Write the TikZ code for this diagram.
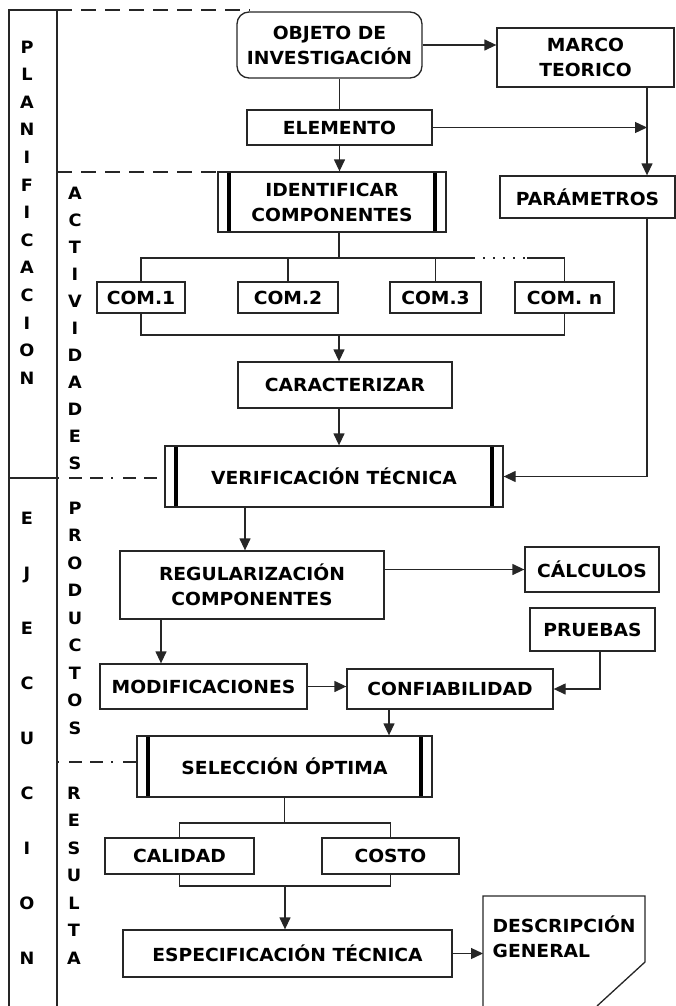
\documentclass[tikz,border=0pt]{standalone}
\usepackage{fontspec}
\setmainfont{DejaVu Sans}[FakeStretch=1.04]
\usetikzlibrary{arrows.meta}
\newcommand\boxfont{\fontsize{18}{25}\selectfont\bfseries}
\newcommand\colfont{\fontsize{17}{17}\selectfont\bfseries}
\begin{document}
\begin{tikzpicture}[x=1pt,y=-1pt,
  line width=1.3pt,
  color=black!85,
  box/.style={draw, rectangle, inner sep=0pt, align=center, font=\boxfont, text=black},
  procbox/.style={box, path picture={
    \draw[line width=3.5pt,draw=black] ([xshift=11pt]path picture bounding box.north west) -- ([xshift=11pt]path picture bounding box.south west);
    \draw[line width=3.5pt,draw=black] ([xshift=-11pt]path picture bounding box.north east) -- ([xshift=-11pt]path picture bounding box.south east);}},
  arr/.style={-{Triangle[length=12pt,width=11pt]}},
  column/.style={inner sep=0pt, align=center, text=black},
  phase/.style={dash pattern=on 15pt off 9pt},
  sub/.style={dash pattern=on 2pt off 10pt on 13pt off 8pt on 13pt off 8pt},
]
\useasboundingbox (0,0) rectangle (676,1006);

% ---- phase columns on the left ----
\draw (9,1006) -- (9,10) -- (57,10);
\draw (57,10) -- (57,1006);
\draw (9,478) -- (57,478);
\draw[phase] (57,10) -- (250,10);

\node[column, font={\colfont\baselineskip=27.6pt}] (plan) at (27,212.5)
  {P\\L\\A\\N\\I\\F\\I\\C\\A\\C\\I\\O\\N};
\node[column, font={\colfont\baselineskip=55pt}] (ejec) at (27,738)
  {E\\J\\E\\C\\U\\C\\I\\O\\N};
\node[column, font={\colfont\baselineskip=27pt}] (activ) at (75,328)
  {A\\C\\T\\I\\V\\I\\D\\A\\D\\E\\S};
\node[column, font={\colfont\baselineskip=27.5pt}] (prod) at (75,618)
  {P\\R\\O\\D\\U\\C\\T\\O\\S};
\node[column, font={\colfont\baselineskip=27.5pt}] (result) at (74,875.5)
  {R\\E\\S\\U\\L\\T\\A};

% ---- boxes ----
\node[box, rounded corners=12pt, minimum width=185pt, minimum height=66pt] (obj) at (329.5,45) {OBJETO DE\\INVESTIGACIÓN};
\node[box, minimum width=177pt, minimum height=59pt] (marco) at (585.5,57.5) {MARCO\\TEORICO};
\node[box, minimum width=185pt, minimum height=35pt] (elem) at (339.5,127.5) {ELEMENTO};
\node[procbox, minimum width=228pt, minimum height=60pt] (ident) at (332,202) {IDENTIFICAR\\COMPONENTES};
\node[box, minimum width=175pt, minimum height=42pt] (param) at (587.5,197) {PARÁMETROS};

\node[box, minimum width=88pt, minimum height=31pt] (com1) at (141,297.5) {COM.1};
\node[box, minimum width=100pt, minimum height=31pt] (com2) at (288,297.5) {COM.2};
\node[box, minimum width=91pt, minimum height=31pt] (com3) at (435.5,297.5) {COM.3};
\node[box, minimum width=99pt, minimum height=31pt] (comn) at (564.5,297.5) {COM. n};

\node[box, minimum width=214pt, minimum height=46pt] (carac) at (345,385) {CARACTERIZAR};
\node[procbox, minimum width=338pt, minimum height=61pt] (verif) at (334,476.5) {VERIFICACIÓN TÉCNICA};

\node[box, minimum width=264pt, minimum height=68pt] (regul) at (252,585) {REGULARIZACIÓN\\COMPONENTES};
\node[box, minimum width=134pt, minimum height=45pt] (calc) at (592,569.5) {CÁLCULOS};
\node[box, minimum width=125pt, minimum height=43pt] (pruebas) at (592.5,629.5) {PRUEBAS};
\node[box, minimum width=207pt, minimum height=45pt] (modif) at (203.5,686.5) {MODIFICACIONES};
\node[box, minimum width=206pt, minimum height=40pt] (conf) at (450,689) {CONFIABILIDAD};

\node[procbox, minimum width=295pt, minimum height=61pt] (selec) at (284.5,766.5) {SELECCIÓN ÓPTIMA};
\node[box, minimum width=149pt, minimum height=36pt] (calidad) at (179.5,856) {CALIDAD};
\node[box, minimum width=137pt, minimum height=36pt] (costo) at (390.5,856) {COSTO};
\node[box, minimum width=329pt, minimum height=47pt] (espec) at (287.5,953.5) {ESPECIFICACIÓN TÉCNICA};

% document shape with a cut corner
\draw (483,1006) -- (483,896) -- (645,896) -- (645,962) -- (597,1006);
\coordinate (descL) at (483,952);
\node[inner sep=0pt, align=left, font=\boxfont, text=black, anchor=west] (desc) at (492,937) {DESCRIPCIÓN\\GENERAL};

% ---- phase separators ----
\draw[phase] (57,172) -- (ident.west |- 0,172);
\draw[sub] (57,478) -- (verif.west |- 0,478);
\draw[sub] (57,762) -- (selec.west |- 0,762);

% ---- connectors ----
\coordinate (mcol) at (647,0);
\draw[arr] (obj.east) -- (obj.east -| marco.west);
\draw (elem.north) -- (elem.north |- obj.south);
\draw[arr] (elem.south) -- (elem.south |- ident.north);
\draw[arr] (elem.east) -- (elem.east -| mcol);
\draw[arr] (marco.south -| mcol) -- (param.north -| mcol);
\draw[arr] (param.south -| mcol) |- (verif.east);

% branch to the components
\coordinate (bt) at (339,258);
\coordinate (d1) at (473,258);
\coordinate (d2) at (527,258);
\draw (ident.south -| bt) -- (bt);
\draw (com1.north) |- (d1);
\draw[dash pattern=on 2pt off 8pt] (d1) -- (d2);
\draw (d2) -| (comn.north);
\draw (com2.north) -- (com2.north |- bt);
\draw (com3.north) -- (com3.north |- bt);

% join of the components
\coordinate (bb) at (339,335);
\draw (com1.south) |- (bb -| comn.south) -- (comn.south);
\draw[arr] (bb) -- (carac.north -| bb);
\draw[arr] (carac.south -| bb) -- (verif.north -| bb);

\draw[arr] ([xshift=-7pt]regul.north |- verif.south) -- ([xshift=-7pt]regul.north);
\draw[arr] (calc.west -| regul.east) -- (calc.west);
\draw[arr] ([xshift=-42.5pt]modif.north |- regul.south) -- ([xshift=-42.5pt]modif.north);
\draw[arr] (modif.east) -- (modif.east -| conf.west);
\draw[arr] ([xshift=7.5pt]pruebas.south) |- (conf.east);
\draw[arr] ([xshift=-61pt]conf.south) -- ([xshift=-61pt]conf.south |- selec.north);

% branch to quality and cost
\coordinate (sb) at (284.5,823);
\draw (selec.south) -- (sb);
\draw (calidad.north) |- (sb -| costo.north) -- (costo.north);
\coordinate (sj) at (285,886);
\draw (calidad.south) |- (sj -| costo.south) -- (costo.south);
\draw[arr] (sj) -- (espec.north -| sj);
\draw[arr] (espec.east) -- (espec.east -| descL);
\end{tikzpicture}
\end{document}
